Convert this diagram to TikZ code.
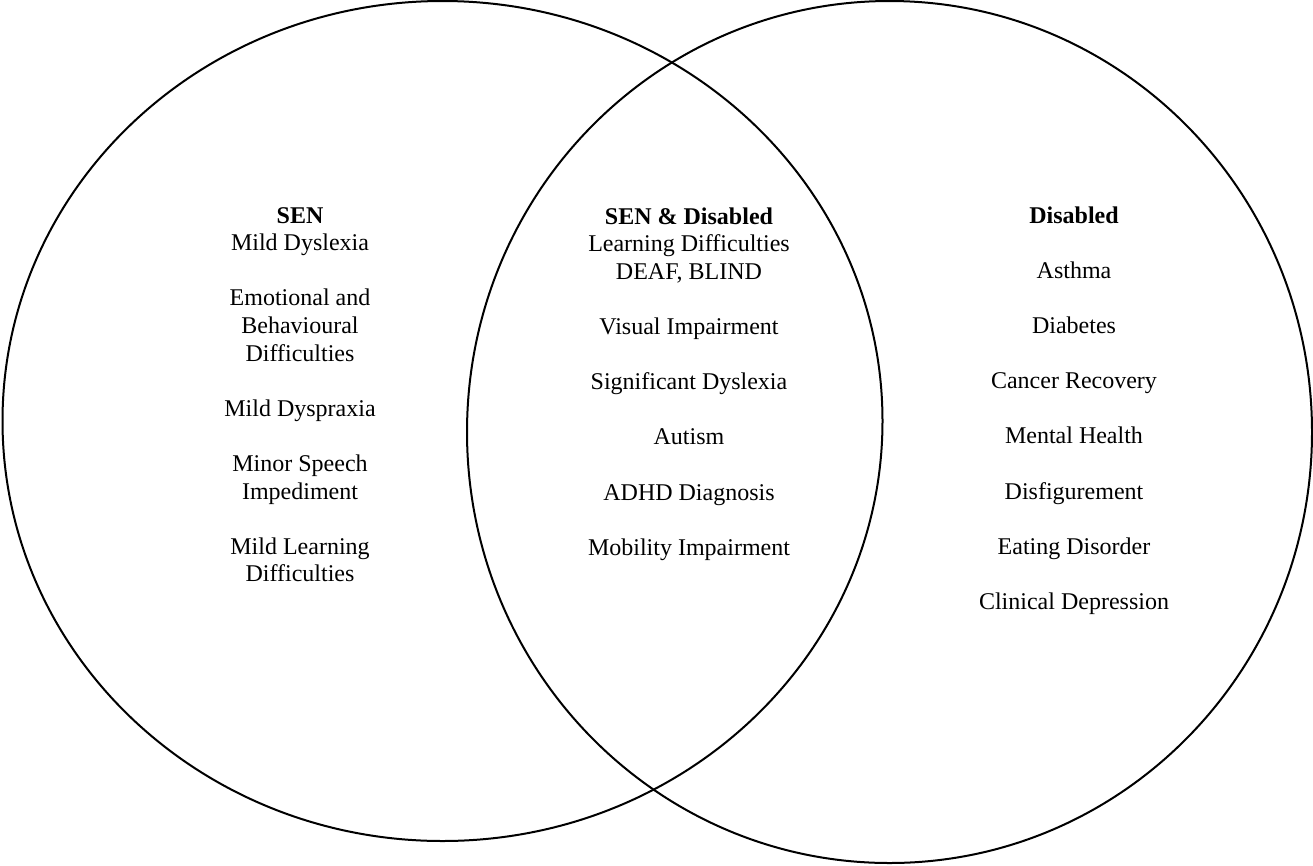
\documentclass[tikz,border=0pt]{standalone}
\usepackage{fontspec}
\setmainfont{Liberation Serif}
\tikzset{
  venn/.style={draw=black, line width=2pt},
  block/.style={anchor=base, inner sep=0pt, font=\fontsize{24}{27.6}\selectfont}
}
\begin{document}
\begin{tikzpicture}[x=1pt,y=-1pt]
\useasboundingbox (0,0) rectangle (1313,865);
\draw[venn] (442.5,421) ellipse [x radius=440pt, y radius=420pt];
\draw[venn] (889.5,432) ellipse [x radius=422.5pt, y radius=431pt];
\node[block] (sen) at (300,223) {\begin{tabular}[t]{@{}c@{}}
\textbf{SEN}\\
Mild Dyslexia\\
\\
Emotional and\\
Behavioural\\
Difficulties\\
\\
Mild Dyspraxia\\
\\
Minor Speech\\
Impediment\\
\\
Mild Learning\\
Difficulties
\end{tabular}};
\node[block] (both) at (689,224) {\begin{tabular}[t]{@{}c@{}}
\textbf{SEN \& Disabled}\\
Learning Difficulties\\
DEAF, BLIND\\
\\
Visual Impairment\\
\\
Significant Dyslexia\\
\\
Autism\\
\\
ADHD Diagnosis\\
\\
Mobility Impairment
\end{tabular}};
\node[block] (dis) at (1074,223) {\begin{tabular}[t]{@{}c@{}}
\textbf{Disabled}\\
\\
Asthma\\
\\
Diabetes\\
\\
Cancer Recovery\\
\\
Mental Health\\
\\
Disfigurement\\
\\
Eating Disorder\\
\\
Clinical Depression
\end{tabular}};
\end{tikzpicture}
\end{document}
